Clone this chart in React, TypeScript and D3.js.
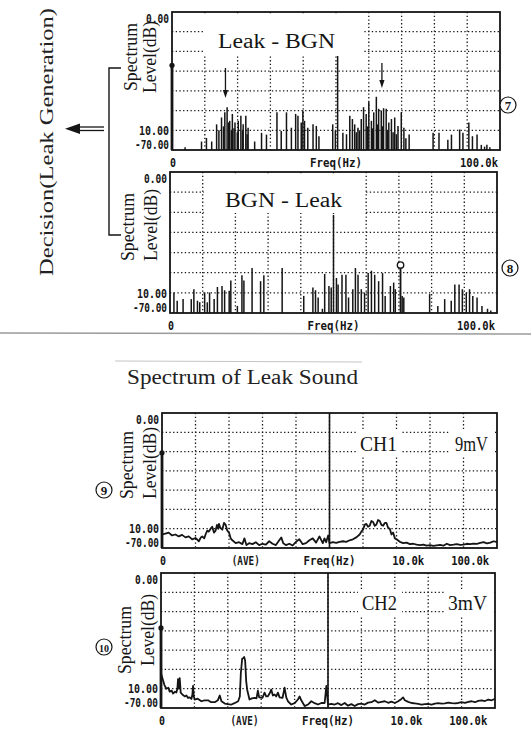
import React from "react";
import * as d3 from "d3";

type Pt = [number, number];

// ⑦ Leak − BGN difference spectrum: [frequency kHz, level dB]
const leakMinusBgn: Pt[] = [
  [4.0, -68.6], [9.0, -65.7], [10.5, -63.9], [12.1, -65.7], [13.6, -57], [14.3, -60],
  [15.1, -53.5], [15.7, -58], [16.1, -50.9], [16.8, -48.3], [17.3, -56], [17.6, -55.2],
  [18.1, -60], [18.4, -51.7], [18.9, -59], [19.2, -56.1], [19.9, -61], [20.2, -55.2],
  [21.0, -52.6], [21.5, -60], [21.7, -57], [22.5, -52.6], [22.9, -62], [23.2, -58.7],
  [25.2, -65.7], [27.3, -61.3], [28.8, -62.2], [32.0, -50.9], [33.3, -60.4], [34.9, -50.9],
  [36.4, -58.7], [37.7, -51.7], [38.4, -52.6], [39.4, -56.1], [39.9, -50], [40.4, -55.2],
  [41.4, -58.7], [43.0, -57], [44.0, -57.8], [44.8, -63], [49.0, -57], [49.8, -60.4],
  [50.5, -2],
  [52.1, -61.3], [53.2, -62], [54.2, -52.6], [55.0, -54.3], [55.7, -57], [56.2, -61],
  [56.7, -58.7], [57.2, -60], [57.7, -54.3], [58.4, -48.3], [59.2, -51.7], [59.6, -58],
  [60.0, -45.7], [60.8, -55.2], [61.1, -59], [61.5, -50.9], [62.3, -43], [62.7, -57],
  [63.0, -49.1], [63.8, -50], [64.1, -58], [64.5, -48.8], [65.3, -49.1], [65.7, -60],
  [66.1, -56.1], [66.9, -54.3], [67.4, -61], [67.9, -53.5], [68.4, -62], [68.9, -57.8],
  [69.9, -50.9], [70.7, -58.7], [71.3, -64], [72.3, -62.2],
  [79.6, -61.3], [81.4, -61.3], [84.1, -64.8], [85.2, -62.2], [87.7, -59.6], [88.7, -61.3],
  [90.5, -56.1], [91.6, -63], [93.0, -62.2], [94.3, -67.4], [95.3, -68.3], [96.0, -67.4],
  [96.9, -68.6],
];

// Arrows pointing at the leak bands in ⑦: [frequency kHz, start dB, end dB]
const leakBandArrows: [number, number, number][] = [
  [16.3, -28.4, -43.6],
  [64.0, -25.9, -38.6],
];

// ⑧ BGN − Leak difference spectrum: [frequency kHz, level dB]
const bgnMinusLeak: Pt[] = [
  [1.2, -59.8], [2.2, -63.9], [4.0, -63.1], [6.5, -63.1], [7.3, -58.2], [8.4, -63.9],
  [9.1, -64.7], [10.6, -59.8], [11.4, -64.7], [12.1, -59.8], [13.5, -63.1], [14.5, -57.1],
  [15.9, -56.6], [16.7, -58.7], [18.1, -59], [18.6, -53.9], [20.6, -66.5], [22.0, -51.3],
  [22.6, -53.9], [25.1, -47.7], [27.7, -54.2], [28.7, -51.3], [34.3, -47.7], [40.9, -61.5],
  [43.7, -57.4], [44.5, -58.7], [45.3, -62.3], [46.6, -67.9], [47.3, -50.6], [48.6, -56.6],
  [49.3, -57.4], [50.0, -21.3], [50.9, -52.6], [51.4, -55.8], [52.6, -51], [53.8, -51],
  [54.6, -62.3], [55.9, -58.2], [56.7, -47.7], [57.5, -51], [58.5, -58.2], [59.5, -59.8],
  [60.6, -50.2], [61.6, -49], [62.6, -51], [63.8, -54.2], [65.0, -50.2], [65.8, -61.5],
  [67.4, -56.6], [68.4, -54.9], [68.9, -58.2], [71.0, -61.5], [71.5, -62.3], [79.4, -60.6],
  [81.9, -66.5], [84.0, -63.1], [86.0, -63.9], [87.1, -55.8], [88.4, -55.8], [89.4, -58.2],
  [90.6, -59.8], [91.6, -58.2], [92.6, -61.5], [93.9, -62.3], [95.4, -66.5], [97.1, -67.9],
  [98.1, -68.7],
];

// Cursor reading in ⑧: [frequency kHz, level dB]
const bgnCursor: Pt = [70.5, -46.2];

// ⑨ CH1 averaged spectrum: [display position %, level dB]
const ch1Trace: Pt[] = [
  [0, -63], [1, -62.5], [2, -62], [3, -63.5], [4, -63], [5, -64], [6, -63.2], [7, -64.5],
  [8, -64], [9, -65.5], [10, -64.8], [11, -66.5], [11.6, -64.5], [12, -64], [12.6, -65],
  [13, -63], [13.5, -61], [14, -61.5], [14.5, -60], [15, -59], [15.5, -62], [16, -61],
  [16.4, -58], [16.8, -60], [17, -57.5], [17.4, -59.5], [18, -60.5], [18.5, -57], [19, -58],
  [19.5, -61], [20, -62], [20.5, -65], [21, -66], [22, -67.5], [23, -67], [24, -68],
  [24.6, -65], [25.2, -68.5], [26, -67.5], [27, -68], [28, -67], [29, -68.5], [30, -67.8],
  [31, -68.2], [32, -66.5], [33, -67.8], [34, -68.5], [35, -66], [35.6, -64.5], [36.2, -67.5],
  [37, -68.5], [38, -67.8], [39, -68.7], [40, -66.8], [41, -65.5], [42, -68], [43, -67.5],
  [44, -66], [45, -65], [46, -67.2], [47, -64], [48, -67.5], [48.5, -65], [49, -67],
  [49.6, -63.5], [50, -67.5], [51, -67], [52, -67.3], [53, -66.8], [54, -66.5], [55, -66.8],
  [56, -66], [57, -65.5], [58, -64.5], [59, -63], [59.5, -61.5], [60, -60.5], [60.5, -58],
  [61, -57.5], [61.5, -59], [62, -58.5], [62.5, -56], [63, -56.5], [63.5, -58.5], [64, -57.8],
  [64.5, -55.5], [65, -56], [65.5, -58], [66, -58.5], [66.5, -57], [67, -57], [67.5, -59.5],
  [68, -60], [68.5, -63], [69, -62], [69.5, -65], [70, -65.5], [71, -66.8], [72, -67.5],
  [73, -67.2], [74, -68], [75, -67.8], [76, -68.3], [77, -68.5], [78, -68.2], [79, -68.8],
  [80, -68.5], [81, -68.9], [82, -68.6], [83, -68.4], [84, -68.8], [85, -67.8], [86, -68.5],
  [87, -68.3], [88, -68], [89, -68.4], [90, -68.2], [91, -67.8], [92, -68], [93, -67.7],
  [94, -67.9], [95, -67.4], [96, -67], [97, -67.6], [98, -67.2], [99, -66.5], [100, -67],
];

// ⑩ CH2 averaged spectrum: [display position %, level dB]
const ch2Trace: Pt[] = [
  [0, -52], [0.5, -55], [1, -58], [1.6, -60], [2.2, -59.5], [2.6, -61.5], [3.2, -61],
  [3.6, -62.5], [4.2, -61.5], [4.6, -62], [4.9, -60], [5.1, -55], [5.3, -60], [5.6, -54.5],
  [5.9, -62], [6.4, -63], [7.1, -64], [7.6, -63.5], [8.1, -64.8], [8.6, -64.5], [9.1, -65.3],
  [9.4, -63], [9.6, -58.5], [9.8, -64], [10.1, -65.6], [11, -65.2], [12.1, -66.5], [13, -66],
  [14.1, -66], [15, -67], [16.1, -67], [17, -66], [17.6, -63.5], [18.1, -66.5], [19.1, -67.7],
  [20, -68], [21.1, -68.2], [22, -67.5], [23.1, -66.5], [23.6, -64], [23.9, -52], [24.3, -44.5],
  [24.7, -44], [24.9, -43.5], [25.2, -45.5], [25.5, -56], [25.8, -60.5], [26.5, -65.6],
  [27.2, -65], [28, -64.7], [28.6, -65], [29, -61], [29.4, -64.5], [30.4, -64.7], [31, -62],
  [31.5, -64], [32, -63.9], [32.5, -62.5], [33, -60.4], [33.5, -63.5], [34, -63], [34.5, -64],
  [35, -62], [35.5, -64.5], [36.4, -64.7], [37, -59.5], [37.5, -64.5], [38, -66.5],
  [39, -68.2], [40, -67.5], [41, -65.6], [41.5, -64], [42, -66], [43, -69], [44, -68.2],
  [45, -66.5], [46, -67.5], [47, -68.2], [48, -67.4], [49, -67.4], [49.5, -58.6], [50, -68.2],
  [51, -67.8], [52, -68.2], [53, -67.5], [54, -68.5], [55, -67.4], [56, -68.8], [57, -68],
  [58, -69], [59, -68], [60, -67.7], [61, -68.2], [62, -67.2], [63, -67], [64, -66],
  [65, -67.2], [66, -66.8], [67, -66.5], [68, -67.3], [69, -66.7], [70, -67.4], [71, -66.5],
  [72, -65.3], [72.5, -64.5], [73, -66], [74, -66.8], [75, -67.4], [76, -67.6], [77, -67.9],
  [78, -68.2], [79, -68], [80, -67.9], [81, -68.2], [82, -67.7], [83, -67.5], [84, -67.7],
  [85, -67.6], [86, -67.2], [87, -67.5], [88, -67.6], [89, -67.4], [90, -67], [91, -67.3],
  [92, -66.8], [93, -66.5], [94, -67], [95, -66.3], [96, -66], [97, -66.4], [98, -65.6],
  [99, -66], [100, -65.3],
];

// Level-axis tick labels (top reference, dB/div, bottom reference)
const levelTicks = ["0.00", "10.00", "-70.00"];

// Frequency-axis labels: [position, text]
const linearFreqLabels: [number, string][] = [[0, "0"], [50, "Freq(Hz)"], [100, "100.0k"]];
const aveFreqLabels: [number, string][] = [[0, "0"], [25, "(AVE)"], [50, "Freq(Hz)"], [73.5, "10.0k"], [92, "100.0k"]];

const MONO = "'DejaVu Sans Mono', 'Liberation Mono', monospace";
const SERIF = "'Liberation Serif', 'DejaVu Serif', serif";
const INK = "#151515";

type Caption = { text: string; x: number; y: number; w: number; box?: [number, number, number, number] };

type PanelSpec = {
  x0: number; x1: number; y0: number; y1: number;
  stems?: Pt[];
  trace?: Pt[];
  cursorLine?: boolean;
  cursorPoint?: Pt;
  markerDb?: number;
  arrows?: [number, number, number][];
  freqLabels: [number, string][];
  captions: Caption[];
  titleY: [number, number];
  titleX: [number, number];
};

const labelWidths: Record<string, number> = {
  "0.00": 23, "10.00": 30, "-70.00": 34, "0": 6, "Freq(Hz)": 52, "100.0k": 38, "(AVE)": 28, "10.0k": 32,
};

function SpectrumPanel(p: PanelSpec) {
  const x = d3.scaleLinear().domain([0, 100]).range([p.x0, p.x1]);
  const y = d3.scaleLinear().domain([-70, 0]).range([p.y1, p.y0]);
  const vGrid = d3.range(10, 100, 10);
  const hGrid = d3.range(-60, 0, 10);
  const line = d3.line<Pt>().x((d) => x(d[0])).y((d) => y(d[1]));
  const tickY = [p.y0 + 11, p.y1 - 15, p.y1 - 1];

  return (
    <g>
      {/* dotted graticule */}
      {vGrid.map((v) => (
        <line key={"v" + v} x1={x(v)} x2={x(v)} y1={p.y0} y2={p.y1}
          stroke={INK} strokeWidth={1.3} strokeDasharray="1.3 2.4" />
      ))}
      {hGrid.map((v) => (
        <line key={"h" + v} x1={p.x0} x2={p.x1} y1={y(v)} y2={y(v)}
          stroke={INK} strokeWidth={1.3} strokeDasharray="1.3 2.4" />
      ))}
      {p.cursorLine && (
        <line x1={x(50)} x2={x(50)} y1={p.y0} y2={p.y1} stroke={INK} strokeWidth={1.6} />
      )}

      {/* line spectrum */}
      {p.stems && p.stems.map((d, i) => (
        <line key={"s" + i} x1={x(d[0])} x2={x(d[0])} y1={y(-70)} y2={y(d[1])}
          stroke={INK} strokeWidth={1.5} />
      ))}
      {/* averaged spectrum trace */}
      {p.trace && (
        <path d={line(p.trace) || ""} fill="none" stroke={INK} strokeWidth={1.8} strokeLinejoin="round" />
      )}

      {p.cursorPoint && (
        <g>
          <line x1={x(p.cursorPoint[0])} x2={x(p.cursorPoint[0])} y1={y(-70)} y2={y(p.cursorPoint[1]) + 3.2}
            stroke={INK} strokeWidth={1.8} />
          <circle cx={x(p.cursorPoint[0])} cy={y(p.cursorPoint[1])} r={3.2} fill="#fff" stroke={INK} strokeWidth={1.4} />
        </g>
      )}

      {p.arrows && p.arrows.map((a, i) => {
        const ax = x(a[0]);
        const ya = y(a[1]);
        const yb = y(a[2]);
        return (
          <g key={"a" + i}>
            <line x1={ax} x2={ax} y1={ya} y2={yb - 6} stroke={INK} strokeWidth={1.3} />
            <path d={`M${ax - 2.6},${yb - 8} L${ax + 2.6},${yb - 8} L${ax},${yb} Z`} fill={INK} />
          </g>
        );
      })}

      {/* captions on white patches */}
      {p.captions.map((c, i) => (
        <g key={"c" + i}>
          {c.box && <rect x={c.box[0]} y={c.box[1]} width={c.box[2]} height={c.box[3]} fill="#fff" />}
          <text x={c.x} y={c.y} fontFamily={SERIF} fontSize={20} fill={INK}
            textLength={c.w} lengthAdjust="spacingAndGlyphs">{c.text}</text>
        </g>
      ))}

      {/* frame */}
      <rect x={p.x0} y={p.y0} width={p.x1 - p.x0} height={p.y1 - p.y0} fill="none" stroke={INK} strokeWidth={1.8} />

      {p.markerDb !== undefined && (
        <g>
          <line x1={p.x0} x2={p.x0} y1={y(p.markerDb)} y2={p.y1} stroke={INK} strokeWidth={2.8} />
          <circle cx={p.x0} cy={y(p.markerDb)} r={2.6} fill={INK} />
        </g>
      )}

      {/* level tick labels */}
      {levelTicks.map((t, i) => (
        <text key={"t" + i} x={p.x0 - 3} y={tickY[i]} textAnchor="end" fontFamily={MONO}
          fontWeight="bold" fontSize={12.5} fill={INK}
          textLength={labelWidths[t]} lengthAdjust="spacingAndGlyphs">{t}</text>
      ))}

      {/* frequency labels */}
      {p.freqLabels.map(([v, t], i) => {
        const anchor = v === 0 ? "start" : v === 100 ? "end" : "middle";
        const xx = v === 0 ? x(0) - 2 : v === 100 ? x(100) - 2 : x(v);
        return (
          <text key={"f" + i} x={xx} y={p.y1 + 17} textAnchor={anchor} fontFamily={MONO}
            fontWeight="bold" fontSize={12.5} fill={INK}
            textLength={labelWidths[t]} lengthAdjust="spacingAndGlyphs">{t}</text>
        );
      })}

      {/* axis title */}
      <text transform={`translate(${p.titleX[0]},${p.titleY[0]}) rotate(-90)`} textAnchor="middle"
        fontFamily={SERIF} fontSize={18} fill={INK} textLength={68} lengthAdjust="spacingAndGlyphs">Spectrum</text>
      <text transform={`translate(${p.titleX[1]},${p.titleY[1]}) rotate(-90)`} textAnchor="middle"
        fontFamily={SERIF} fontSize={18} fill={INK} textLength={72} lengthAdjust="spacingAndGlyphs">Level(dB)</text>
    </g>
  );
}

const panels: PanelSpec[] = [
  {
    x0: 172, x1: 500, y0: 12, y1: 150,
    stems: leakMinusBgn, markerDb: -27, arrows: leakBandArrows,
    freqLabels: linearFreqLabels,
    captions: [{ text: "Leak - BGN", x: 218, y: 48, w: 117, box: [204, 14, 160, 42] }],
    titleX: [137, 156], titleY: [57, 57],
  },
  {
    x0: 170, x1: 497, y0: 172, y1: 313,
    stems: bgnMinusLeak, cursorPoint: bgnCursor,
    freqLabels: linearFreqLabels,
    captions: [{ text: "BGN - Leak", x: 225, y: 207, w: 117, box: [204, 175, 160, 38] }],
    titleX: [134, 157], titleY: [227, 225],
  },
  {
    x0: 162, x1: 497, y0: 413, y1: 548,
    trace: ch1Trace, cursorLine: true, markerDb: -20.6,
    freqLabels: aveFreqLabels,
    captions: [
      { text: "CH1", x: 360, y: 451, w: 37, box: [356, 429, 46, 26] },
      { text: "9mV", x: 455, y: 451, w: 33, box: [450, 429, 44, 26] },
    ],
    titleX: [133, 156], titleY: [465, 463],
  },
  {
    x0: 161, x1: 495, y0: 573, y1: 708,
    trace: ch2Trace, cursorLine: true, markerDb: -28.5,
    freqLabels: aveFreqLabels,
    captions: [
      { text: "CH2", x: 362, y: 610, w: 35, box: [358, 589, 44, 26] },
      { text: "3mV", x: 448, y: 610, w: 39, box: [444, 589, 48, 26] },
    ],
    titleX: [131, 154], titleY: [640, 630],
  },
];

// Circled panel numbers: [number, centre x, centre y]
const panelNumbers: [string, number, number][] = [
  ["7", 508, 105], ["8", 510, 268], ["9", 104, 490], ["10", 104, 647],
];

export default function App() {
  return (
    <svg width={531} height={731} viewBox="0 0 531 731"
      style={{ position: "absolute", left: 0, top: 0, background: "#fff" }}>
      <rect width={531} height={731} fill="#fff" />

      {panels.map((p, i) => <SpectrumPanel key={i} {...p} />)}

      {panelNumbers.map(([t, cx, cy]) => (
        <g key={t}>
          <circle cx={cx} cy={cy} r={8} fill="#fff" stroke={INK} strokeWidth={1.2} />
          <text x={cx} y={cy + 4.5} textAnchor="middle" fontFamily={SERIF}
            fontSize={t.length > 1 ? 11 : 13} fontWeight="bold" fill={INK}
            textLength={t.length > 1 ? 10 : undefined} lengthAdjust="spacingAndGlyphs">{t}</text>
        </g>
      ))}

      {/* decision annotation: bracket and double arrow */}
      <text transform="translate(53,142) rotate(-90)" textAnchor="middle" fontFamily={SERIF}
        fontSize={18} fill="#222" textLength={268} lengthAdjust="spacingAndGlyphs">Decision(Leak Generation)</text>
      <path d="M121,68 L109,68 L109,235 L121,235" fill="none" stroke={INK} strokeWidth={1.4} />
      <line x1={77} x2={104} y1={127} y2={127} stroke={INK} strokeWidth={1.3} />
      <line x1={77} x2={104} y1={130.5} y2={130.5} stroke={INK} strokeWidth={1.3} />
      <path d="M65,128.7 L80,123.5 L80,134 Z" fill={INK} />

      {/* page separators */}
      <line x1={0} x2={531} y1={333} y2={334} stroke="#9a9a9a" strokeWidth={1.5} />
      <line x1={115} x2={362} y1={361} y2={362} stroke="#c4c4c4" strokeWidth={1} />

      <text x={127} y={384} fontFamily={SERIF} fontSize={20} fill="#222"
        textLength={231} lengthAdjust="spacingAndGlyphs">Spectrum of Leak Sound</text>
    </svg>
  );
}
